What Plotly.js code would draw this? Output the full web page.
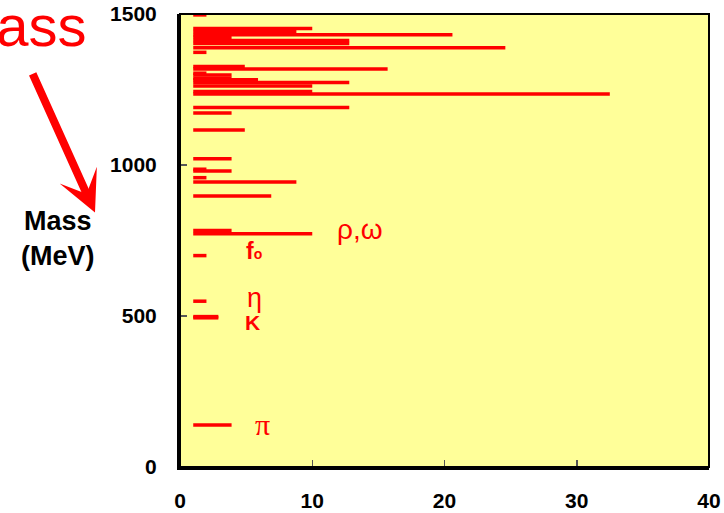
<!DOCTYPE html>
<html>
<head>
<meta charset="utf-8">
<script src="https://cdn.plot.ly/plotly-3.0.1.min.js"></script>
<style>html,body{margin:0;padding:0;background:#fff;}#chart{width:724px;height:513px;}</style>
</head>
<body>
<div id="chart"></div>
<script>
// Meson states: mass (MeV) and bar end on the x axis (bars start at 1)
const masses = [1497,1452,1442,1431,1423,1412,1402,1388,1373,1326,1318,1304,1298,1287,1282,1273,1262,1243,1235,1190,1172,1116,1021,986,980,958,944,897,783,772,700,549,498,494,139];
const barEnds = [2,10,8.8,20.6,3.9,12.8,12.8,24.6,2,4.9,15.7,2,3.9,3.9,5.9,12.8,10,10,32.5,12.8,3.9,4.9,3.9,2,3.9,2,8.8,6.9,3.9,10,2,2,2.9,2.9,3.9];
const barStart = 1;

const xTicks = [0,10,20,30,40];
const yTicks = [0,500,1000,1500];

const labels = [
  {text: 'ρ,ω', x: 13.6, y: 786, size: 28, bold: false, family: 'Liberation Sans, Arial, sans-serif'},
  {text: "f<span style='font-size:14px'>o</span>", x: 5.6, y: 716, size: 23, bold: true, family: 'Liberation Sans, Arial, sans-serif'},
  {text: 'η', x: 5.6, y: 560, size: 27, bold: false, family: 'Liberation Sans, Arial, sans-serif'},
  {text: 'K', x: 5.5, y: 478, size: 21, bold: true, family: 'Liberation Sans, Arial, sans-serif'},
  {text: 'π', x: 6.2, y: 140, size: 30, bold: false, family: 'Liberation Serif, Times New Roman, serif'}
];

const xs = [], ys = [];
masses.forEach((m, i) => {
  xs.push(barStart, barEnds[i], null);
  ys.push(m, m, null);
});

const trace = {
  type: 'scatter', mode: 'lines', x: xs, y: ys,
  line: {color: '#FF0000', width: 3.5},
  connectgaps: false, cliponaxis: false, hoverinfo: 'skip', showlegend: false
};

const font = 'Liberation Sans, Arial, sans-serif';
const annotations = labels.map(l => ({
  text: l.text, x: l.x, y: l.y, xref: 'x', yref: 'y', showarrow: false,
  xanchor: 'center', yanchor: 'middle',
  font: {family: l.family, size: l.size, color: '#FF0000', weight: l.bold ? 'bold' : 'normal'}
}));

// Big red "Mass" (cut at left edge)
annotations.push({
  text: 'Mass', xref: 'paper', yref: 'paper', x: -0.172, y: 0.975,
  xanchor: 'right', yanchor: 'middle', showarrow: false,
  font: {family: font, size: 58, color: '#FF0000'}
});
// Arrow
annotations.push({
  text: '', xref: 'paper', yref: 'paper', x: -0.1607, y: 0.562,
  axref: 'pixel', ayref: 'pixel', ax: -63, ay: -140,
  showarrow: true, arrowhead: 3, arrowsize: 0.85, arrowwidth: 8, arrowcolor: '#FF0000', standoff: 0
});
// Axis title
annotations.push({
  text: 'Mass<br>(MeV)', xref: 'paper', yref: 'paper', x: -0.2306, y: 0.505,
  xanchor: 'center', yanchor: 'middle', showarrow: false,
  font: {family: font, size: 27, color: '#000', weight: 'bold'}
});

const axisCommon = {
  showgrid: false, zeroline: false, showline: true, linecolor: '#000', linewidth: 3,
  ticks: 'inside', ticklen: 7, tickwidth: 1.5, tickcolor: '#555',
  tickfont: {family: font, size: 21, color: '#000', weight: 'bold'}
};

const layout = {
  width: 724, height: 513,
  margin: {l: 180, r: 15, t: 14, b: 46, pad: 0},
  paper_bgcolor: '#FFFFFF', plot_bgcolor: '#FFFF99',
  xaxis: Object.assign({}, axisCommon, {range: [0, 40], tickvals: xTicks, ticktext: xTicks.map(String), ticklabelstandoff: 13}),
  yaxis: Object.assign({}, axisCommon, {range: [0, 1500], tickvals: yTicks, ticktext: yTicks.map(String), ticklabelstandoff: 16}),
  shapes: [{type: 'rect', xref: 'paper', yref: 'paper', x0: 0, x1: 1, y0: 0, y1: 1, line: {color: '#000', width: 2}, layer: 'above'}],
  annotations: annotations,
  showlegend: false
};

Plotly.newPlot('chart', [trace], layout, {displayModeBar: false, staticPlot: true});
</script>
</body>
</html>
